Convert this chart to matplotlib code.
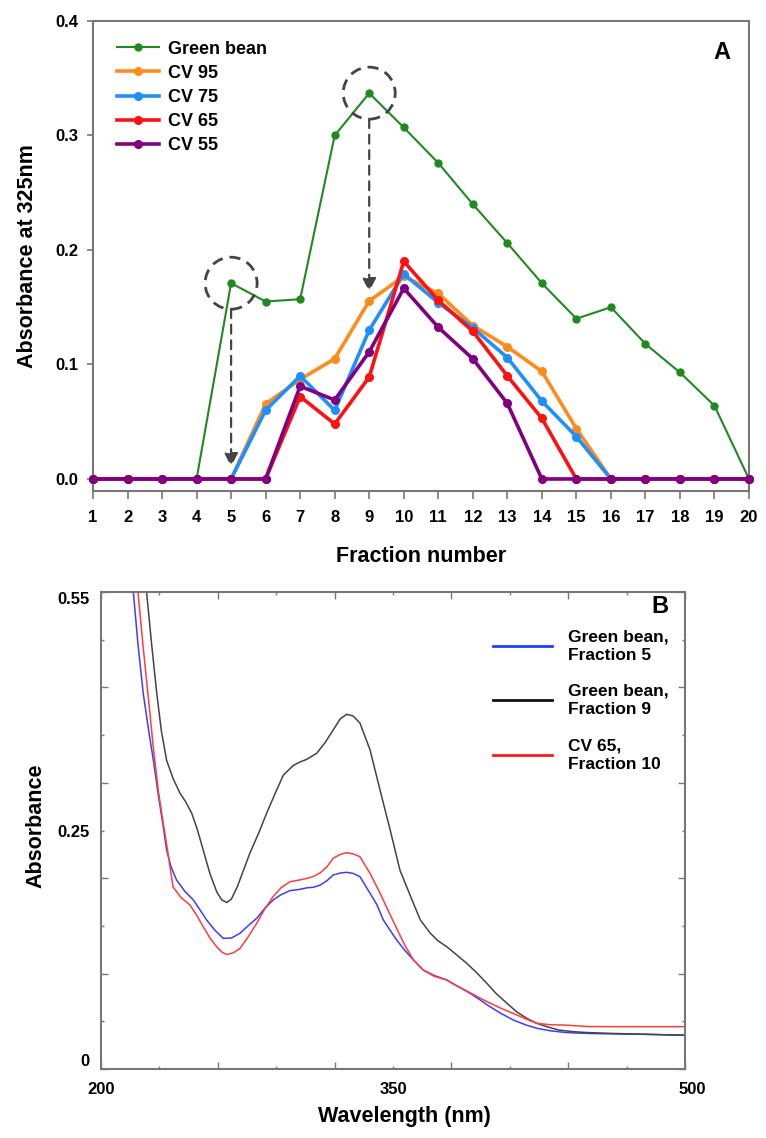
#Fraction absorbance profiles (A) and UV spectra of selected fractions (B)
import numpy as np
import matplotlib
matplotlib.use('Agg')
import matplotlib.pyplot as plt
from matplotlib.patches import Ellipse
from matplotlib.transforms import ScaledTranslation

plt.rcParams['font.family'] = ['Liberation Sans', 'DejaVu Sans']
plt.rcParams['font.weight'] = 'bold'

#Panel A data: absorbance at 325 nm per fraction
fractions = list(range(1, 21))
green_bean = [0, 0, 0, 0, 0.171, 0.155, 0.157, 0.300, 0.337, 0.307,
              0.276, 0.240, 0.206, 0.171, 0.140, 0.150, 0.118, 0.093, 0.064, 0]
cv95 = [0, 0, 0, 0, 0, 0.0655, 0.087, 0.105, 0.1555, 0.177,
        0.162, 0.134, 0.1155, 0.094, 0.044, 0, 0, 0, 0, 0]
cv75 = [0, 0, 0, 0, 0, 0.060, 0.090, 0.060, 0.130, 0.179,
        0.154, 0.132, 0.106, 0.068, 0.037, 0, 0, 0, 0, 0]
cv65 = [0, 0, 0, 0, 0, 0, 0.072, 0.048, 0.089, 0.190,
        0.156, 0.129, 0.090, 0.053, 0, 0, 0, 0, 0, 0]
cv55 = [0, 0, 0, 0, 0, 0, 0.081, 0.069, 0.111, 0.1665,
        0.1325, 0.105, 0.066, 0, 0, 0, 0, 0, 0, 0]
series_names = ['Green bean', 'CV 95', 'CV 75', 'CV 65', 'CV 55']

#Panel B data: spectra (wavelength nm, absorbance)
wl_f5 = [214, 216.6, 219, 221.7, 224.5, 226.9, 229.5, 232, 233.7, 236, 238.8, 243, 247.4,
         251, 254.2, 258.5, 262.8, 267, 271.4, 275.5, 280, 284, 288.5, 292.5, 297.1,
         302.2, 306, 309.1, 312.5, 316, 319.3, 323, 326.2, 329.5, 333, 338.2, 341.6,
         345, 348.5, 351.9, 356, 360.5, 365.6, 371, 377.6, 383.5, 389.6, 394.5, 399.8,
         405.5, 411.8, 418, 423.8, 431, 439.2, 450, 463, 480, 497.4, 500]
abs_f5 = [0.60, 0.55, 0.49, 0.433, 0.39, 0.356, 0.315, 0.279, 0.2525, 0.233, 0.218, 0.205, 0.195,
          0.183, 0.172, 0.160, 0.1507, 0.151, 0.1565, 0.165, 0.1738, 0.185, 0.195, 0.201, 0.2057,
          0.2072, 0.209, 0.2095, 0.212, 0.217, 0.2237, 0.226, 0.2268, 0.2255, 0.2218, 0.2026, 0.19,
          0.172, 0.16, 0.1487, 0.137, 0.1257, 0.114, 0.108, 0.1026, 0.095, 0.0873, 0.080, 0.0719,
          0.064, 0.0565, 0.051, 0.047, 0.044, 0.042, 0.041, 0.0405, 0.040, 0.0389, 0.0389]

wl_f9 = [221, 223.4, 226, 228.6, 231, 233.7, 237, 240.6, 243.5, 246.6, 249.5, 252.5, 256,
         259.5, 262, 264.6, 267, 270, 273, 276.5, 281, 285.1, 289.5, 293.7, 298.8, 302.2,
         305.6, 310.8, 315, 319.3, 323, 326.2, 329.5, 333, 338.2, 343.3, 348.5, 353.6,
         360.5, 364, 369, 373, 377.6, 382.5, 387.8, 393, 398.1, 403, 408.4, 413.5, 418.7,
         423.5, 429, 435, 442.6, 450, 463, 480, 500]
abs_f9 = [0.60, 0.55, 0.49, 0.434, 0.39, 0.356, 0.335, 0.318, 0.308, 0.295, 0.276, 0.2525, 0.225,
          0.204, 0.195, 0.192, 0.196, 0.21, 0.228, 0.249, 0.272, 0.295, 0.318, 0.339, 0.350, 0.354,
          0.357, 0.364, 0.376, 0.391, 0.404, 0.409, 0.407, 0.399, 0.368, 0.322, 0.276, 0.229,
          0.191, 0.172, 0.157, 0.148, 0.141, 0.132, 0.122, 0.111, 0.099, 0.087, 0.076, 0.066, 0.0585,
          0.053, 0.0488, 0.045, 0.043, 0.042, 0.041, 0.040, 0.039]

wl_f10 = [216.5, 219, 221.5, 224, 226.9, 229.5, 232, 234, 237, 241, 245.7, 249, 252.5, 256,
          259.4, 262, 264.5, 268, 271.4, 275.5, 280, 284, 288.5, 292.5, 297.1, 302.2, 306,
          309.1, 312.5, 316, 319.3, 323, 326.2, 329.5, 333, 338.2, 343.3, 348.5, 351.9, 356,
          360.5, 365.6, 371, 377.6, 383.5, 389.6, 394.5, 399.8, 405.5, 411.8, 418, 423.8, 431,
          437.4, 450, 463, 480, 500]
abs_f10 = [0.60, 0.55, 0.49, 0.435, 0.37, 0.32, 0.283, 0.255, 0.21, 0.198, 0.189, 0.178, 0.164, 0.151,
           0.141, 0.135, 0.132, 0.134, 0.139, 0.152, 0.168, 0.184, 0.199, 0.209, 0.216, 0.218, 0.22,
           0.222, 0.226, 0.233, 0.243, 0.2475, 0.2494, 0.248, 0.2448, 0.2256, 0.203, 0.178, 0.162, 0.143,
           0.1257, 0.114, 0.107, 0.1026, 0.095, 0.088, 0.082, 0.076, 0.070, 0.064, 0.058, 0.0527, 0.051,
           0.0507, 0.049, 0.0488, 0.0488, 0.0488]
spectra_names = ['Green bean,\nFraction 5', 'Green bean,\nFraction 9', 'CV 65,\nFraction 10']

W, H = 766, 1138
fig = plt.figure(figsize=(W/100, H/100), dpi=100)
spine_col = '#777777'

##Panel A
ax1 = fig.add_axes([93/W, 1-491/H, 656/W, 470/H])
colors_a = ['#1f8a1f', '#ff8c1a', '#1e8fff', '#ff1010', '#800080']
all_series = [green_bean, cv95, cv75, cv65, cv55]
for i, (vals, name, c) in enumerate(zip(all_series, series_names, colors_a)):
    lw = 1.5 if i == 0 else 2.6
    ms = 5 if i == 0 else 5.5
    ax1.plot(fractions, vals, color=c, lw=lw, marker='o', ms=ms, label=name, clip_on=False, zorder=3+i)

#dashed circles and arrows on the two green bean peaks
for k in [4, 8]:
    ax1.add_patch(Ellipse((fractions[k], green_bean[k]), width=52/34.53, height=52/1145,
                          fill=False, ec='#444444', lw=2, ls=(0, (4, 2.5)), zorder=8))
arrow_kw = dict(arrowstyle='-|>', color='#444444', lw=1.6, linestyle=(0, (4, 3)),
                mutation_scale=20, shrinkA=0, shrinkB=0)
ax1.annotate('', xy=(fractions[4], 0.0107), xytext=(fractions[4], green_bean[4]-0.0227),
             arrowprops=arrow_kw, zorder=9)
ax1.annotate('', xy=(fractions[8], cv95[8]+0.008), xytext=(fractions[8], green_bean[8]-0.0227),
             arrowprops=arrow_kw, zorder=9)

ax1.set_xlim(1, 20)
ax1.set_ylim(-0.0105, 0.4)
ax1.set_xticks(fractions)
ax1.set_yticks([0, 0.1, 0.2, 0.3, 0.4], labels=['0.0', '0.1', '0.2', '0.3', '0.4'])
ax1.tick_params(axis='x', direction='out', length=6, width=1.2, color=spine_col, labelsize=12, pad=8)
ax1.tick_params(axis='y', direction='out', length=4.5, width=1.2, color=spine_col, labelsize=12, pad=6)
for s in ax1.spines.values():
    s.set_color(spine_col)
    s.set_linewidth(1.5)
ax1.set_xlabel('Fraction number', fontsize=15.5, fontweight='bold')
ax1.set_ylabel('Absorbance at 325nm', fontsize=15.5, fontweight='bold')
ax1.xaxis.set_label_coords(0.5, -0.116)
ax1.yaxis.set_label_coords(-0.084, 0.5)
ax1.text(0.959, 0.934, 'A', transform=ax1.transAxes, fontsize=17, fontweight='bold',
         ha='center', va='center')
ax1.legend(loc='upper left', bbox_to_anchor=(0.0366, 0.958), frameon=False, fontsize=13,
           handlelength=2.3, handletextpad=0.55, labelspacing=0.39, borderpad=0, borderaxespad=0)

##Panel B
ax2 = fig.add_axes([101/W, 1-1069/H, 584/W, 477/H])
ax2.plot(wl_f5, abs_f5, color='#3c3cff', lw=1.1, label=spectra_names[0])
ax2.plot(wl_f9, abs_f9, color='#444444', lw=1.1, label=spectra_names[1])
ax2.plot(wl_f10, abs_f10, color='#ff3c3c', lw=1.1, label=spectra_names[2])
ax2.set_xlim(200, 500)
ax2.set_ylim(0, 0.55)
ax2.set_xticks(np.linspace(200, 500, 6), labels=['200', '', '', '', '', '500'])
ax2.set_xticks(np.linspace(230, 470, 5), labels=['', '', '350', '', ''], minor=True)
ax2.set_yticks(np.linspace(0, 0.55, 6), labels=['0', '', '', '', '', '0.55'])
ax2.set_yticks(np.linspace(0.055, 0.495, 5), labels=['', '', '0.25', '', ''], minor=True)
ax2.tick_params(which='both', direction='in', top=True, right=True, color=spine_col,
                width=1, labelsize=12)
ax2.tick_params(which='major', length=5)
ax2.tick_params(which='minor', length=2.5)
ax2.tick_params(axis='x', which='both', pad=9)
ax2.tick_params(axis='y', which='both', pad=8)
ylabs = ax2.get_yticklabels()
ylabs[0].set_verticalalignment('bottom')
ylabs[-1].set_verticalalignment('top')
xlabs = ax2.get_xticklabels()
xlabs[-1].set_transform(xlabs[-1].get_transform() + ScaledTranslation(0.07, 0, fig.dpi_scale_trans))
for s in ax2.spines.values():
    s.set_color(spine_col)
    s.set_linewidth(1.5)
ax2.set_xlabel('Wavelength (nm)', fontsize=15.5, fontweight='bold')
ax2.set_ylabel('Absorbance', fontsize=15.5, fontweight='bold')
ax2.xaxis.set_label_coords(0.519, -0.078)
ax2.yaxis.set_label_coords(-0.094, 0.511)
ax2.text(0.957, 0.9686, 'B', transform=ax2.transAxes, fontsize=17, fontweight='bold',
         ha='center', va='center')
leg = ax2.legend(loc='upper left', bbox_to_anchor=(0.671, 0.922), frameon=False, fontsize=12.5,
                 handlelength=3.4, handletextpad=0.9, labelspacing=1.2, borderpad=0, borderaxespad=0)
leg_cols = ['#1f3fff', '#111111', '#ff1a1a']
for h, c in zip(leg.get_lines(), leg_cols):
    h.set_color(c)
    h.set_linewidth(2)
for t in leg.get_texts():
    t.set_linespacing(1.3)

plt.savefig('out.png', dpi=100)
